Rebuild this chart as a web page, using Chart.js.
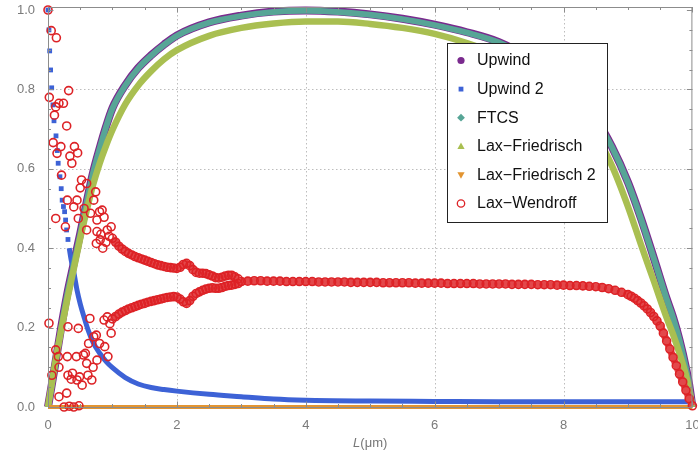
<!DOCTYPE html>
<html>
<head>
<meta charset="utf-8">
<script src="https://cdn.jsdelivr.net/npm/chart.js@4.4.1/dist/chart.umd.min.js"></script>
<style>
  html, body { margin: 0; padding: 0; background: #fff; }
  canvas { display: block; }
</style>
</head>
<body>
<canvas id="chart" width="698" height="453"></canvas>
<script>
// values
const humpX = [0, 0.1, 0.2, 0.3, 0.4, 0.5, 0.6, 0.7, 0.8, 0.9, 1.0, 1.2, 1.4, 1.6, 1.8, 2.0, 2.5, 3.0, 3.5, 4.0,
  4.5, 5.0, 5.5, 6.0, 6.5, 7.0, 7.5, 8.0, 8.25, 8.5, 8.75, 9.0, 9.2, 9.4, 9.6, 9.7, 9.8, 9.9, 9.95, 10];
const upwindY = [0, 0.096, 0.196, 0.286, 0.362, 0.437, 0.516, 0.591, 0.651, 0.706, 0.753, 0.811, 0.854, 0.886, 0.913, 0.936, 0.969, 0.986, 0.996, 0.999,
  0.996, 0.989, 0.978, 0.963, 0.944, 0.919, 0.876, 0.816, 0.776, 0.726, 0.656, 0.566, 0.476, 0.376, 0.273, 0.226, 0.169, 0.099, 0.056, 0];
const ftcsY = [0, 0.095, 0.195, 0.285, 0.36, 0.435, 0.515, 0.59, 0.65, 0.705, 0.752, 0.81, 0.853, 0.885, 0.912, 0.935, 0.968, 0.985, 0.995, 0.998,
  0.995, 0.988, 0.977, 0.962, 0.943, 0.918, 0.875, 0.815, 0.775, 0.725, 0.655, 0.565, 0.475, 0.375, 0.272, 0.225, 0.168, 0.098, 0.055, 0];
const laxFriedY = [0, 0.1, 0.19, 0.272, 0.348, 0.425, 0.495, 0.56, 0.613, 0.658, 0.698, 0.763, 0.81, 0.846, 0.876, 0.899, 0.935, 0.955, 0.966, 0.971,
  0.971, 0.965, 0.955, 0.94, 0.917, 0.887, 0.843, 0.78, 0.738, 0.685, 0.608, 0.505, 0.41, 0.318, 0.225, 0.183, 0.135, 0.08, 0.045, 0];

const upwind2X = [0, 0.015, 0.026, 0.04, 0.057, 0.077, 0.093, 0.124, 0.144, 0.158, 0.185, 0.205, 0.22, 0.24, 0.258, 0.273, 0.289, 0.31, 0.33, 0.36,
  0.4, 0.45, 0.5, 0.56, 0.62, 0.7, 0.8, 0.9, 1.0, 1.2, 1.4, 1.6, 1.8, 2.0, 2.5, 3.0, 3.5, 4.0, 5.0, 6.0, 7.0, 8.0, 9.0, 9.9, 10];
const upwind2Y = [1.0, 0.95, 0.897, 0.849, 0.804, 0.761, 0.721, 0.683, 0.646, 0.614, 0.58, 0.55, 0.521, 0.505, 0.492, 0.471, 0.446, 0.422, 0.4, 0.37,
  0.34, 0.295, 0.26, 0.226, 0.195, 0.163, 0.136, 0.115, 0.099, 0.074, 0.058, 0.049, 0.044, 0.04, 0.032, 0.026, 0.02, 0.017, 0.015, 0.014, 0.013, 0.013, 0.013, 0.013, 0.012];

const laxFried2X = [0, 1, 2, 3, 4, 5, 6, 7, 8, 9, 10];
const laxFried2Y = [0, 0, 0, 0, 0, 0, 0, 0, 0, 0, 0];

// Lax-Wendroff: noisy start, two branches, then one band
const lwScatterX = [0, 0.05, 0.13, 0.02, 0.1, 0.12, 0.17, 0.24, 0.32, 0.29, 0.08, 0.2, 0.34, 0.41, 0.46, 0.14, 0.37, 0.21, 0.52, 0.5,
  0.6, 0.3, 0.45, 0.71, 0.74, 0.4, 0.56, 0.66, 0.8, 0.84, 0.87, 0.12, 0.47, 0.76, 0.27, 0.6, 0.76, 0.82, 0.92, 0.98,
  0.75, 0.81, 0.85, 0.95, 0.9,
  0.015, 0.06, 0.12, 0.16, 0.17, 0.17, 0.29, 0.3, 0.31, 0.31, 0.36, 0.38, 0.44, 0.47, 0.45, 0.49, 0.53, 0.55, 0.58, 0.6,
  0.62, 0.63, 0.65, 0.68, 0.7, 0.71, 0.75, 0.76, 0.8, 0.87, 0.88, 0.92, 0.93, 0.96, 0.98, 0.25, 0.33, 0.4, 0.48];
const lwScatterY = [1.0, 0.948, 0.93, 0.78, 0.735, 0.756, 0.765, 0.765, 0.797, 0.708, 0.666, 0.656, 0.632, 0.656, 0.64, 0.639, 0.614, 0.584, 0.572, 0.552,
  0.563, 0.521, 0.521, 0.521, 0.542, 0.504, 0.5, 0.488, 0.492, 0.496, 0.478, 0.475, 0.475, 0.471, 0.454, 0.446, 0.442, 0.435, 0.446, 0.454,
  0.412, 0.421, 0.4, 0.43, 0.415,
  0.211, 0.08, 0.144, 0.127, 0.1, 0.026, 0.035, 0.127, 0.202, 0.08, 0.07, 0.085, 0.127, 0.198, 0.068, 0.076, 0.055, 0.131, 0.135, 0.11,
  0.08, 0.16, 0.223, 0.068, 0.1, 0.177, 0.181, 0.118, 0.16, 0.219, 0.152, 0.227, 0.127, 0.21, 0.186, 0, 0.002, 0, 0.003];
const lwBranchX = [1.0, 1.05, 1.1, 1.15, 1.2, 1.25, 1.3, 1.35, 1.4, 1.45, 1.5, 1.55, 1.6, 1.65, 1.7, 1.75, 1.8, 1.85, 1.9, 1.95,
  2.0, 2.05, 2.1, 2.15, 2.2, 2.25, 2.3, 2.35, 2.4, 2.45, 2.5, 2.55, 2.6, 2.65, 2.7, 2.75, 2.8, 2.85, 2.9, 2.95];
const lwUpperY = [0.425, 0.415, 0.405, 0.398, 0.392, 0.387, 0.383, 0.379, 0.376, 0.373, 0.37, 0.367, 0.364, 0.361, 0.358, 0.356, 0.354, 0.352, 0.351, 0.35,
  0.349, 0.352, 0.359, 0.362, 0.356, 0.346, 0.339, 0.337, 0.337, 0.336, 0.333, 0.33, 0.326, 0.325, 0.327, 0.33, 0.332, 0.332, 0.328, 0.323];
const lwLowerY = [0.222, 0.228, 0.234, 0.239, 0.243, 0.247, 0.25, 0.253, 0.256, 0.259, 0.261, 0.264, 0.266, 0.268, 0.27, 0.272, 0.274, 0.276, 0.277, 0.278,
  0.277, 0.272, 0.265, 0.261, 0.268, 0.279, 0.286, 0.29, 0.294, 0.297, 0.299, 0.3, 0.299, 0.299, 0.301, 0.304, 0.306, 0.307, 0.309, 0.311];
const lwTailX = [3.0, 3.1, 3.2, 3.3, 3.4, 3.5, 3.6, 3.7, 3.8, 3.9, 4.0, 4.1, 4.2, 4.3, 4.4, 4.5, 4.6, 4.7, 4.8, 4.9,
  5.0, 5.1, 5.2, 5.3, 5.4, 5.5, 5.6, 5.7, 5.8, 5.9, 6.0, 6.1, 6.2, 6.3, 6.4, 6.5, 6.6, 6.7, 6.8, 6.9,
  7.0, 7.1, 7.2, 7.3, 7.4, 7.5, 7.6, 7.7, 7.8, 7.9, 8.0, 8.1, 8.2, 8.3, 8.4, 8.5, 8.6, 8.7, 8.8, 8.9, 9.0,
  9.05, 9.1, 9.15, 9.2, 9.25, 9.3, 9.35, 9.4, 9.45, 9.5, 9.55, 9.6, 9.65, 9.7, 9.75, 9.8, 9.85, 9.9, 9.95, 10];
const lwTailY = [0.316, 0.317, 0.318, 0.318, 0.317, 0.317, 0.317, 0.316, 0.316, 0.316, 0.316, 0.316, 0.315, 0.315, 0.315, 0.315, 0.315, 0.314, 0.314, 0.314,
  0.314, 0.314, 0.313, 0.313, 0.313, 0.313, 0.313, 0.312, 0.312, 0.312, 0.312, 0.312, 0.311, 0.311, 0.311, 0.311, 0.311, 0.31, 0.31, 0.31,
  0.31, 0.31, 0.309, 0.309, 0.309, 0.309, 0.308, 0.308, 0.308, 0.307, 0.307, 0.306, 0.306, 0.305, 0.304, 0.303, 0.301, 0.298, 0.294, 0.289, 0.283,
  0.279, 0.274, 0.268, 0.262, 0.255, 0.247, 0.238, 0.228, 0.217, 0.204, 0.186, 0.166, 0.146, 0.125, 0.104, 0.083, 0.063, 0.042, 0.021, 0.003];

const xTicks = [0, 2, 4, 6, 8, 10];
const yTicks = [0, 0.2, 0.4, 0.6, 0.8, 1.0];
const seriesNames = ['Upwind', 'Upwind 2', 'FTCS', 'Lax\u2212Friedrisch', 'Lax\u2212Friedrisch 2', 'Lax\u2212Wendroff'];

const purple = '#7a2a8e';
const blue = '#3d62d6';
const teal = '#57a596';
const olive = '#a9bf51';
const orange = '#e29431';
const red = '#dd2226';

const pts = (xs, ys) => xs.map((x, i) => ({ x: x, y: ys[i] }));

Chart.defaults.font.family = '"Liberation Sans", Arial, sans-serif';

function drawMarker(ctx, kind, x, y, color) {
  ctx.save();
  ctx.fillStyle = color;
  ctx.strokeStyle = color;
  ctx.beginPath();
  if (kind === 'circle') {
    ctx.arc(x, y, 3.6, 0, Math.PI * 2);
    ctx.fill();
  } else if (kind === 'square') {
    ctx.rect(x - 2.4, y - 2.4, 4.8, 4.8);
    ctx.fill();
  } else if (kind === 'diamond') {
    ctx.moveTo(x, y - 3.9); ctx.lineTo(x + 3.9, y); ctx.lineTo(x, y + 3.9); ctx.lineTo(x - 3.9, y);
    ctx.closePath(); ctx.fill();
  } else if (kind === 'up') {
    ctx.moveTo(x, y - 3.8); ctx.lineTo(x + 3.6, y + 2.6); ctx.lineTo(x - 3.6, y + 2.6);
    ctx.closePath(); ctx.fill();
  } else if (kind === 'down') {
    ctx.moveTo(x, y + 3.8); ctx.lineTo(x + 3.6, y - 2.6); ctx.lineTo(x - 3.6, y - 2.6);
    ctx.closePath(); ctx.fill();
  } else {
    ctx.lineWidth = 1.3;
    ctx.arc(x, y, 3.7, 0, Math.PI * 2);
    ctx.stroke();
  }
  ctx.restore();
}

const framePlugin = {
  id: 'frame',
  beforeDatasetsDraw(chart) {
    const { ctx, chartArea: a, scales: { x, y } } = chart;
    ctx.save();
    ctx.strokeStyle = '#bdbdbd';
    ctx.lineWidth = 1;
    ctx.setLineDash([1.5, 2.5]);
    for (const v of xTicks) {
      if (v === 0 || v === 10) continue;
      const px = Math.round(x.getPixelForValue(v)) + 0.5;
      ctx.beginPath(); ctx.moveTo(px, a.top); ctx.lineTo(px, a.bottom); ctx.stroke();
    }
    for (const v of yTicks) {
      if (v === 0 || v === 1) continue;
      const py = Math.round(y.getPixelForValue(v)) + 0.5;
      ctx.beginPath(); ctx.moveTo(a.left, py); ctx.lineTo(a.right, py); ctx.stroke();
    }
    ctx.restore();
  },
  afterDatasetsDraw(chart) {
    const { ctx, chartArea: a, scales: { x, y } } = chart;
    ctx.save();
    ctx.strokeStyle = '#8c8c8c';
    ctx.lineWidth = 1;
    ctx.strokeRect(a.left + 0.5, a.top + 0.5, a.right - a.left - 1, a.bottom - a.top);
    ctx.beginPath();
    for (let i = 0; i <= 20; i++) {
      const v = i * 0.5;
      const len = i % 4 === 0 ? 5.5 : 3;
      const px = Math.round(x.getPixelForValue(v)) + 0.5;
      ctx.moveTo(px, a.bottom); ctx.lineTo(px, a.bottom - len);
      ctx.moveTo(px, a.top); ctx.lineTo(px, a.top + len);
    }
    for (let i = 0; i <= 20; i++) {
      const v = i * 0.05;
      const len = i % 4 === 0 ? 5.5 : 3;
      const py = Math.round(y.getPixelForValue(v)) + 0.5;
      ctx.moveTo(a.left, py); ctx.lineTo(a.left + len, py);
      ctx.moveTo(a.right, py); ctx.lineTo(a.right - len, py);
    }
    ctx.stroke();
    ctx.restore();
  },
  afterDraw(chart) {
    const ctx = chart.ctx;
    const a = chart.chartArea;
    ctx.save();
    // axis title, L in italics
    ctx.fillStyle = '#777';
    ctx.textBaseline = 'alphabetic';
    ctx.font = 'italic 13px "Liberation Sans", Arial, sans-serif';
    const wL = ctx.measureText('L').width;
    ctx.font = '13px "Liberation Sans", Arial, sans-serif';
    const wR = ctx.measureText('(\u03bcm)').width;
    const cx = (a.left + a.right) / 2;
    const tx = cx - (wL + wR) / 2;
    ctx.font = 'italic 13px "Liberation Sans", Arial, sans-serif';
    ctx.fillText('L', tx, 447);
    ctx.font = '13px "Liberation Sans", Arial, sans-serif';
    ctx.fillText('(\u03bcm)', tx + wL, 447);

    // legend box
    ctx.fillStyle = '#fff';
    ctx.fillRect(447.5, 43.5, 160, 179);
    ctx.strokeStyle = '#222';
    ctx.lineWidth = 1;
    ctx.strokeRect(447.5, 43.5, 160, 179);
    const kinds = ['circle', 'square', 'diamond', 'up', 'down', 'ring'];
    ctx.font = '16px "Liberation Sans", Arial, sans-serif';
    ctx.textBaseline = 'middle';
    chart.data.datasets.forEach((ds, i) => {
      const ry = 60.5 + i * 28.6;
      drawMarker(ctx, kinds[i], 461, ry, ds.legendColor);
      ctx.fillStyle = '#111';
      ctx.fillText(ds.label, 477, ry + 0.5);
    });
    ctx.restore();
  }
};

const lineSeries = (label, xs, ys, color, width, order) => ({
  label: label,
  data: pts(xs, ys),
  showLine: true,
  borderColor: color,
  backgroundColor: color,
  legendColor: color,
  borderWidth: width,
  pointRadius: 0,
  cubicInterpolationMode: 'monotone',
  borderJoinStyle: 'round',
  order: order,
  clip: false
});

const nScatter = lwScatterX.length;
const nBranch = lwBranchX.length;

new Chart(document.getElementById('chart'), {
  type: 'scatter',
  data: {
    datasets: [
      lineSeries(seriesNames[0], humpX, upwindY, purple, 8, 6),
      {
        label: seriesNames[1],
        data: pts(upwind2X, upwind2Y),
        showLine: true,
        borderColor: blue,
        backgroundColor: blue,
        legendColor: blue,
        borderWidth: 5,
        pointStyle: 'rect',
        pointRadius: c => (c.raw && c.raw.x < 0.32) ? 3.4 : 0,
        pointBorderWidth: 0,
        pointBackgroundColor: blue,
        segment: { borderColor: c => c.p0.parsed.x < 0.32 ? 'rgba(0,0,0,0)' : undefined },
        cubicInterpolationMode: 'monotone',
        order: 5,
        clip: false
      },
      lineSeries(seriesNames[2], humpX, ftcsY, teal, 6, 4),
      lineSeries(seriesNames[3], humpX, laxFriedY, olive, 6.5, 3),
      lineSeries(seriesNames[4], laxFried2X, laxFried2Y, orange, 4, 2),
      {
        label: seriesNames[5],
        data: [...pts(lwScatterX, lwScatterY), ...pts(lwBranchX, lwUpperY), ...pts(lwBranchX, lwLowerY), ...pts(lwTailX, lwTailY)],
        // dense stretches are packed circles: a band under the rings
        showLine: true,
        borderColor: '#e3474a',
        borderWidth: 7,
        borderJoinStyle: 'round',
        segment: {
          borderColor: c => (c.p0DataIndex < nScatter || c.p0DataIndex === nScatter + nBranch - 1) ? 'rgba(0,0,0,0)' : undefined
        },
        legendColor: red,
        pointStyle: 'circle',
        pointRadius: 4,
        pointBorderWidth: 1.6,
        pointBorderColor: red,
        pointBackgroundColor: 'rgba(255,255,255,0)',
        order: 1,
        clip: false
      }
    ]
  },
  options: {
    responsive: false,
    animation: false,
    events: [],
    layout: { padding: { top: 7, right: 3, left: 0, bottom: 0 } },
    plugins: { legend: { display: false }, tooltip: { enabled: false } },
    scales: {
      x: {
        type: 'linear',
        min: 0,
        max: 10,
        afterBuildTicks: s => { s.ticks = xTicks.map(v => ({ value: v })); },
        afterFit: s => { s.height = 46; s.paddingLeft = 0; s.paddingRight = 0; },
        ticks: { autoSkip: false, maxRotation: 0, padding: 3, color: '#7a7a7a', font: { size: 13 }, callback: v => String(v) },
        grid: { display: false },
        border: { display: false }
      },
      y: {
        type: 'linear',
        min: 0,
        max: 1.0076,
        afterBuildTicks: s => { s.ticks = yTicks.map(v => ({ value: v })); },
        afterFit: s => { s.width = 48; s.paddingTop = 0; s.paddingBottom = 0; },
        ticks: { autoSkip: false, padding: 5, color: '#7a7a7a', font: { size: 13 }, callback: v => v.toFixed(1) },
        grid: { display: false },
        border: { display: false }
      }
    }
  },
  plugins: [framePlugin]
});
</script>
</body>
</html>
